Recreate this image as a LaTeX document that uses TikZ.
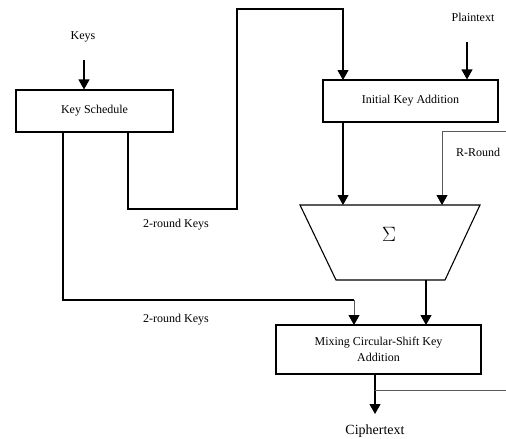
\documentclass[tikz,border=0pt]{standalone}
\usepackage{fontspec}
\setmainfont{Liberation Serif}
\usetikzlibrary{arrows.meta,calc}
\begin{document}
\begin{tikzpicture}[x=1pt,y=-1pt,
  box/.style={draw,line width=1.1pt,inner sep=0pt,align=center,font=\fontsize{12}{14}\selectfont},
  lbl/.style={font=\fontsize{12}{14}\selectfont,inner sep=0pt},
  wire/.style={line width=1.1pt},
  arr/.style={line width=1.1pt,-{Triangle[width=11pt,length=10pt]}},
  gwire/.style={line width=0.8pt,draw=black!65},
  garr/.style={line width=0.8pt,draw=black!65,-{Triangle[width=11pt,length=10pt,color=black]}}]
\useasboundingbox (0,0) rectangle (506,439);
% boxes
\node[box,minimum width=157pt,minimum height=42pt] (ks) at (94.5,111) {Key Schedule};
\node[box,minimum width=175pt,minimum height=42pt] (ika) at (410.5,101) {Initial Key Addition};
\node[box,minimum width=205pt,minimum height=49pt] (mix) at (378.5,349.5) {Mixing Circular-Shift Key\\[2pt]Addition};
% trapezoid
\coordinate (tl) at (300,205);
\coordinate (tr) at (480,205);
\coordinate (br) at (445,280);
\coordinate (bl) at (336,280);
\draw[line width=1.1pt] (tl) -- (tr) -- (br) -- (bl) -- cycle;
\node[font=\fontsize{20}{22}\selectfont] (sig) at (389,234) {$\Sigma$};
% labels
\node[lbl] (keys) at (83,37) {Keys};
\node[lbl] (pt) at (473,17) {Plaintext};
\node[lbl,anchor=west] (rr) at (456,152) {R-Round};
\node[lbl] (k2a) at (176,225) {2-round Keys};
\node[lbl] (k2b) at (176,320) {2-round Keys};
\node[lbl,font=\fontsize{14}{16}\selectfont] (ct) at (375,431) {Ciphertext};
% coordinates
\coordinate (kin) at (84,60);
\coordinate (pin) at (467,42);
\coordinate (rin) at (506,131);
\coordinate (cout) at (375,414);
\coordinate (fb) at (506,390);
% connectors
\draw[arr] (kin) -- (kin |- ks.north);
\draw[arr] (pin) -- (pin |- ika.north);
\draw[arr] (128,132) -- (128,209) -- (237,209) -- (237,9) -- (343,9) -- (343,80);
\draw[arr] (343,122) -- (343,205);
\draw[garr] (rin) -- (442,131) -- (442,205);
\draw[wire] (63,132) -- (63,300) -- (354,300);
\draw[garr] (354,300) -- (354,325);
\draw[arr] (426,280) -- (426,325);
\draw[arr] (375,374) -- (cout);
\draw[gwire] (375,390) -- (fb);
\end{tikzpicture}
\end{document}
